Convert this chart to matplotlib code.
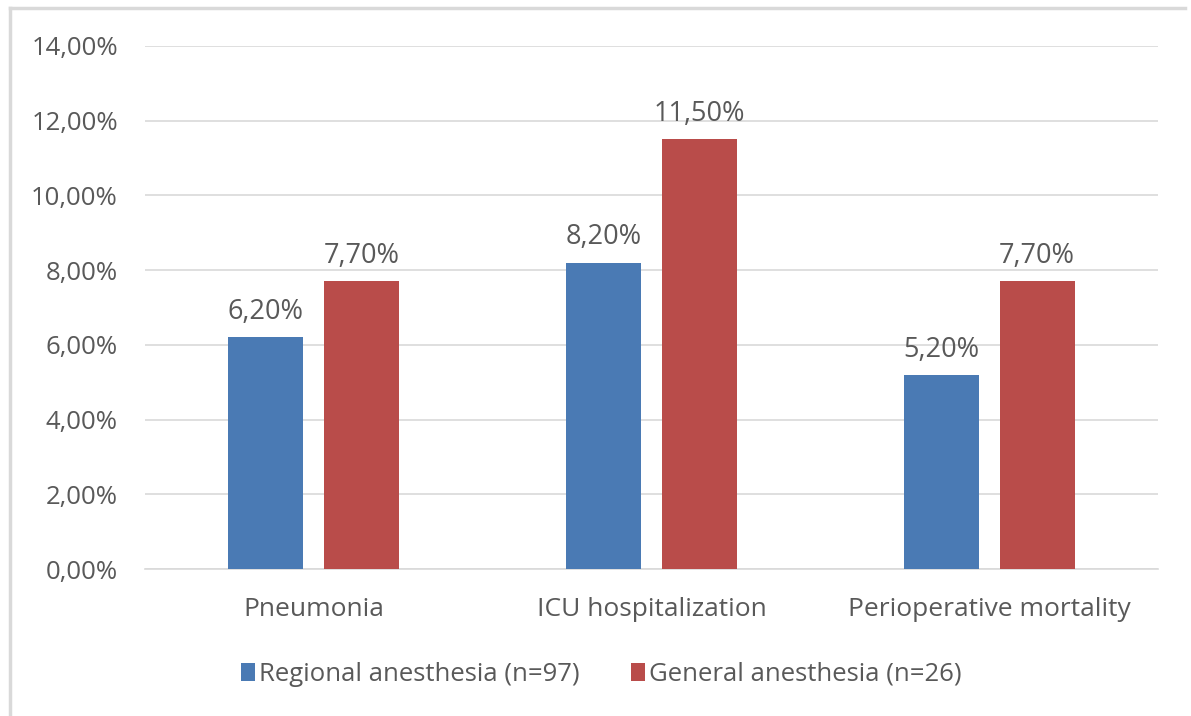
import matplotlib.pyplot as plt
import numpy as np

categories = ['Pneumonia', 'ICU hospitalization', 'Perioperative mortality']
regional = [6.2, 8.2, 5.2]
general = [7.7, 11.5, 7.7]
yticks = [0, 2, 4, 6, 8, 10, 12, 14]

plt.rcParams['font.family'] = ['Open Sans', 'DejaVu Sans']
txt = '#595959'

fig = plt.figure(figsize=(11.91, 7.16), dpi=100)
ax = fig.add_axes([0.1217, 0.2053, 0.8506, 0.7305])

# outer chart frame (light gray, left and top visible)
fig.add_artist(plt.Line2D([0.0085, 0.0085], [0.0, 0.989], color='#d9d9d9', lw=2.5, transform=fig.transFigure))
fig.add_artist(plt.Line2D([0.0085, 0.995], [0.989, 0.989], color='#d9d9d9', lw=2.5, transform=fig.transFigure))

x = np.arange(len(categories))
w = 0.222
b1 = ax.bar(x - 0.142, regional, w, color='#4a7ab4', label='Regional anesthesia (n=97)', zorder=3)
b2 = ax.bar(x + 0.142, general, w, color='#b94c4a', label='General anesthesia (n=26)', zorder=3)

for bars, vals in [(b1, regional), (b2, general)]:
    for r, v in zip(bars, vals):
        ax.text(r.get_x() + r.get_width() / 2, v + 0.3, ('%.2f%%' % v).replace('.', ','),
                ha='center', va='bottom', fontsize=19.5, color=txt)

ax.set_xlim(-0.5, 2.5)
ax.set_ylim(0, 14)
ax.set_yticks(yticks)
ax.set_yticklabels([('%.2f%%' % t).replace('.', ',') for t in yticks], fontsize=18.5, color=txt)
ax.set_xticks(x)
ax.set_xticklabels(categories, fontsize=19, color=txt)
ax.tick_params(length=0)
ax.tick_params(axis='x', pad=20)
ax.tick_params(axis='y', pad=19.5)
ax.grid(axis='y', color='#d9d9d9', lw=1.2, zorder=0)
for s in ['top', 'right', 'left']:
    ax.spines[s].set_visible(False)
ax.spines['bottom'].set_color('#d9d9d9')
ax.spines['bottom'].set_linewidth(1.2)

fig.legend(loc='center', bbox_to_anchor=(0.505, 0.058), ncol=2, frameon=False,
           fontsize=18.5, handlelength=0.55, handleheight=0.7, handletextpad=0.15,
           columnspacing=2.0, labelcolor=txt)

plt.savefig('out.png', dpi=100)
